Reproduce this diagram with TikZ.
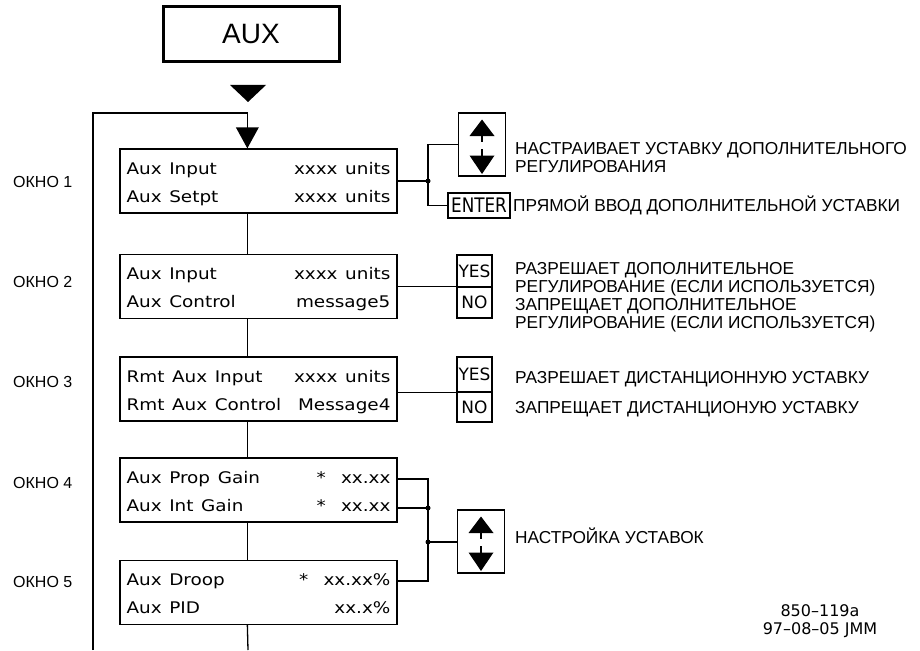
\documentclass[tikz,border=0pt]{standalone}
\usepackage{fontspec}
\setmainfont{Liberation Sans}
\newfontfamily\cadfont[FakeStretch=1.15,WordSpace=1.3]{DejaVu Sans}
\newfontfamily\cadplain{DejaVu Sans}
\usetikzlibrary{calc}
\begin{document}
\begin{tikzpicture}[x=1pt,y=-1pt,
  lcd/.style={draw, line width=1.3pt, minimum width=277pt, minimum height=64pt, inner sep=0pt},
  ln/.style={line width=1.3pt},
  lt/.style={font=\cadfont\fontsize{16}{19}\selectfont, anchor=base west, inner sep=0pt},
  rt/.style={font=\cadfont\fontsize{16}{19}\selectfont, anchor=base east, inner sep=0pt},
  rus/.style={font=\fontsize{17.3}{20}\selectfont, anchor=base west, inner sep=0pt},
  okno/.style={font=\fontsize{16}{19}\selectfont, anchor=west, inner sep=0pt},
  key/.style={draw, line width=1.3pt, inner sep=0pt, font=\cadplain\fontsize{17}{20}\selectfont},
  abox/.style={draw, line width=1.3pt, minimum width=47pt, minimum height=63pt, inner sep=0pt},
  jdot/.style={circle, fill, inner sep=0pt, minimum size=5pt},
  foot/.style={font=\cadplain\fontsize{16}{19}\selectfont, anchor=base, inner sep=0pt},
  updown/.pic={
    \fill (0,-25) -- (12.5,-8.5) -- (-12.5,-8.5) -- cycle;
    \fill (-1.1,-9) rectangle (1.1,-2.5);
    \fill (-1.1,4) rectangle (1.1,11.5);
    \fill (0,29.5) -- (12.5,11) -- (-12.5,11) -- cycle;
  }
]
\useasboundingbox (0,0) rectangle (920,650);

% AUX header
\node[draw, line width=3pt, minimum width=176pt, minimum height=55pt, inner sep=0pt,
      font=\fontsize{28}{30}\selectfont] (aux) at (251,34.5) {AUX};
\fill (230,85) -- (266,85) -- (248,102) -- cycle;

% window labels
\node[okno] (o1) at (13,182) {ОКНО 1};
\node[okno] (o2) at (13,282) {ОКНО 2};
\node[okno] (o3) at (13,382) {ОКНО 3};
\node[okno] (o4) at (13,483) {ОКНО 4};
\node[okno] (o5) at (13,582) {ОКНО 5};

% display boxes
\node[lcd] (b1) at (258.5,181) {};
\node[lcd] (b2) at (258.5,286.5) {};
\node[lcd] (b3) at (258.5,389) {};
\node[lcd] (b4) at (258.5,490) {};
\node[lcd] (b5) at (258.5,592.5) {};

\node[lt] at ($(b1.north west)+(7,26)$) {Aux Input};
\node[rt] at ($(b1.north east)+(-7,26)$) {xxxx units};
\node[lt] at ($(b1.north west)+(7,54)$) {Aux Setpt};
\node[rt] at ($(b1.north east)+(-7,54)$) {xxxx units};

\node[lt] at ($(b2.north west)+(7,26)$) {Aux Input};
\node[rt] at ($(b2.north east)+(-7,26)$) {xxxx units};
\node[lt] at ($(b2.north west)+(7,54)$) {Aux Control};
\node[rt] at ($(b2.north east)+(-7,54)$) {message5};

\node[lt] at ($(b3.north west)+(7,26)$) {Rmt Aux Input};
\node[rt] at ($(b3.north east)+(-7,26)$) {xxxx units};
\node[lt] at ($(b3.north west)+(7,54)$) {Rmt Aux Control};
\node[rt] at ($(b3.north east)+(-7,54)$) {Message4};

\node[lt] at ($(b4.north west)+(7,26)$) {Aux Prop Gain};
\node[rt] at ($(b4.north east)+(-7,26)$) {*\ \ xx.xx};
\node[lt] at ($(b4.north west)+(7,54)$) {Aux Int Gain};
\node[rt] at ($(b4.north east)+(-7,54)$) {*\ \ xx.xx};

\node[lt] at ($(b5.north west)+(7,26)$) {Aux Droop};
\node[rt] at ($(b5.north east)+(-7,26)$) {*\ \ xx.xx\%};
\node[lt] at ($(b5.north west)+(7,54)$) {Aux PID};
\node[rt] at ($(b5.north east)+(-7,54)$) {xx.x\%};

% main vertical flow and return loop
\coordinate (loopb) at (93,650);
\coordinate (loopt) at (93,113);
\coordinate (endb) at (248,650);
\coordinate (in1) at ($(b1.north west)+(128,0)$);
\draw[ln] (loopb) -- (loopt) -- (loopt -| in1) -- (in1);
\fill ($(in1)+(-11.5,-21)$) -- ($(in1)+(11.5,-21)$) -- (in1) -- cycle;
\draw[ln] ($(b1.south west)+(128,0)$) -- ($(b2.north west)+(128,0)$);
\draw[ln] ($(b2.south west)+(128,0)$) -- ($(b3.north west)+(128,0)$);
\draw[ln] ($(b3.south west)+(128,0)$) -- ($(b4.north west)+(128,0)$);
\draw[ln] ($(b4.south west)+(128,0)$) -- ($(b5.north west)+(128,0)$);
\draw[ln] ($(b5.south west)+(128,0)$) -- (endb);

% window 1 keys
\node[abox] (ab1) at (482,144.5) {};
\pic at (ab1.center) {updown};
\node[key, minimum width=62pt, minimum height=25pt, font=\cadplain\fontsize{20}{22}\selectfont] (ent) at (479,205.5) {\scalebox{0.84}[1]{ENTER}};
\coordinate (j1) at (428,181);
\draw[ln] (b1.east) -- (j1);
\draw[ln] (ab1.west) -| (j1) |- (ent.west);
\node[jdot] at (j1) {};
\node[rus] at (515,154) {НАСТРАИВАЕТ УСТАВКУ ДОПОЛНИТЕЛЬНОГО};
\node[rus] at (515,172) {РЕГУЛИРОВАНИЯ};
\node[rus] at (513,211) {ПРЯМОЙ ВВОД ДОПОЛНИТЕЛЬНОЙ УСТАВКИ};

% window 2 keys
\node[key, minimum width=35pt, minimum height=32pt] (yes1) at (474.5,271) {YES};
\node[key, minimum width=35pt, minimum height=31pt] (no1) at (474.5,302.5) {NO};
\draw[ln] (b2.east) -- (b2.east -| yes1.west);
\node[rus] at (515,274.5) {РАЗРЕШАЕТ ДОПОЛНИТЕЛЬНОЕ};
\node[rus] at (515,292) {РЕГУЛИРОВАНИЕ (ЕСЛИ ИСПОЛЬЗУЕТСЯ)};
\node[rus] at (515,310) {ЗАПРЕЩАЕТ ДОПОЛНИТЕЛЬНОЕ};
\node[rus] at (515,328) {РЕГУЛИРОВАНИЕ (ЕСЛИ ИСПОЛЬЗУЕТСЯ)};

% window 3 keys
\node[key, minimum width=35pt, minimum height=35pt] (yes2) at (474.5,374.5) {YES};
\node[key, minimum width=35pt, minimum height=30pt] (no2) at (474.5,407) {NO};
\draw[ln] (yes2.south west) -- (yes2.south west -| b3.east);
\node[rus] at (515,383.5) {РАЗРЕШАЕТ ДИСТАНЦИОННУЮ УСТАВКУ};
\node[rus] at (515,413.5) {ЗАПРЕЩАЕТ ДИСТАНЦИОНУЮ УСТАВКУ};

% windows 4-5 keys
\node[abox] (ab2) at (481,541.5) {};
\pic at (ab2.center) {updown};
\coordinate (j4a) at (428,479);
\coordinate (j4b) at (428,508);
\coordinate (j4c) at (428,542);
\coordinate (j5) at (428,581);
\draw[ln] (j4a -| b4.east) -- (j4a) -- (j5) -- (j5 -| b5.east);
\draw[ln] (j4b -| b4.east) -- (j4b);
\draw[ln] (j4c) -- (j4c -| ab2.west);
\node[jdot] at (j4b) {};
\node[jdot] at (j4c) {};
\node[rus] at (515,543.5) {НАСТРОЙКА УСТАВОК};

% drawing number
\node[foot] (dn) at (820,616) {850–119a};
\node[foot] (dd) at (820,634) {97–08–05 JMM};
\end{tikzpicture}
\end{document}
